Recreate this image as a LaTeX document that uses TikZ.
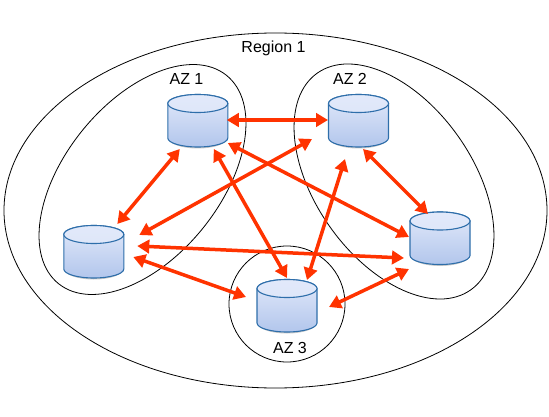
\documentclass[tikz,border=0pt]{standalone}
\usepackage{fontspec}
\setmainfont{Liberation Sans}
\usetikzlibrary{arrows.meta}
\definecolor{arrowred}{RGB}{255,51,0}
\definecolor{dbline}{RGB}{46,110,170}
\definecolor{dbtop}{RGB}{226,233,250}
\definecolor{dbbot}{RGB}{178,198,236}
\tikzset{
  zone/.style={draw=black,line width=0.8pt,fill=none},
  lbl/.style={font=\fontsize{16}{18}\selectfont,text=black,inner sep=0pt},
  dbnode/.style={minimum width=60pt,minimum height=53pt,inner sep=0pt,draw=none},
  link/.style={draw=arrowred,line width=3.5pt,{Triangle[length=12pt,width=13.5pt]}-{Triangle[length=12pt,width=13.5pt]}},
}
\newcommand{\dbcyl}[3]{%
  \fill[black!35,opacity=.6] (#2-29,#3+18) arc[start angle=180,end angle=0,x radius=29,y radius=10] -- cycle;
  \shade[top color=dbtop,bottom color=dbbot,draw=dbline,line width=1.1pt]
    (#2-30,#3-17) -- (#2-30,#3+17.5) arc[start angle=180,end angle=0,x radius=30,y radius=9]
    -- (#2+30,#3-17) arc[start angle=0,end angle=-180,x radius=30,y radius=9] -- cycle;
  \shade[top color=dbtop,bottom color=dbtop!92!dbbot,draw=dbline,line width=1.1pt] (#2,#3-17) ellipse[x radius=30,y radius=9];
  \node[dbnode] (#1) at (#2,#3) {};
}
\begin{document}
\begin{tikzpicture}[x=1pt,y=-1pt]
\useasboundingbox (0,0) rectangle (549,417);
% zones
\draw[zone] (275.5,210.5) ellipse[x radius=271.5,y radius=177.5];
\draw[zone,shift={(142.5,179.5)},rotate=51.1] (0,0) ellipse[x radius=133.8,y radius=77.6];
\draw[zone,shift={(394,181.5)},rotate=-54.7] (0,0) ellipse[x radius=132.8,y radius=78.5];
\draw[zone] (287,304) circle[radius=58];
% labels
\node[lbl] (region) at (273.5,48) {Region 1};
\node[lbl] (az1) at (186.5,79) {AZ 1};
\node[lbl] (az2) at (350,79) {AZ 2};
\node[lbl] (az3) at (290,348) {AZ 3};
% stores
\dbcyl{dba}{197.8}{120.5}
\dbcyl{dbb}{358.5}{120.5}
\dbcyl{dbc}{93.8}{251.5}
\dbcyl{dbd}{440}{238}
\dbcyl{dbe}{287}{305.5}
% links
\draw[link] ([shift={(29,-0.5)}]dba.center) -- ([shift={(-30.5,-0.5)}]dbb.center);
\draw[link] ([shift={(-18,28.5)}]dba.center) -- ([shift={(23.5,-27.5)}]dbc.center);
\draw[link] ([shift={(30,22.5)}]dba.center) -- ([shift={(-31,-1)}]dbd.center);
\draw[link] ([shift={(16,28.5)}]dba.center) -- ([shift={(0,-27.5)}]dbe.center);
\draw[link] ([shift={(-46.5,18.5)}]dbb.center) -- ([shift={(45.5,-16.5)}]dbc.center);
\draw[link] ([shift={(4.5,28.5)}]dbb.center) -- ([shift={(-12,-24)}]dbd.center);
\draw[link] ([shift={(-13.5,38.5)}]dbb.center) -- ([shift={(20,-25.5)}]dbe.center);
\draw[link] ([shift={(43.5,-5.5)}]dbc.center) -- ([shift={(-36,20)}]dbd.center);
\draw[link] ([shift={(39.5,5.5)}]dbc.center) -- ([shift={(-41,-8.5)}]dbe.center);
\draw[link] ([shift={(42,1.5)}]dbe.center) -- ([shift={(-31,31)}]dbd.center);
\end{tikzpicture}
\end{document}
